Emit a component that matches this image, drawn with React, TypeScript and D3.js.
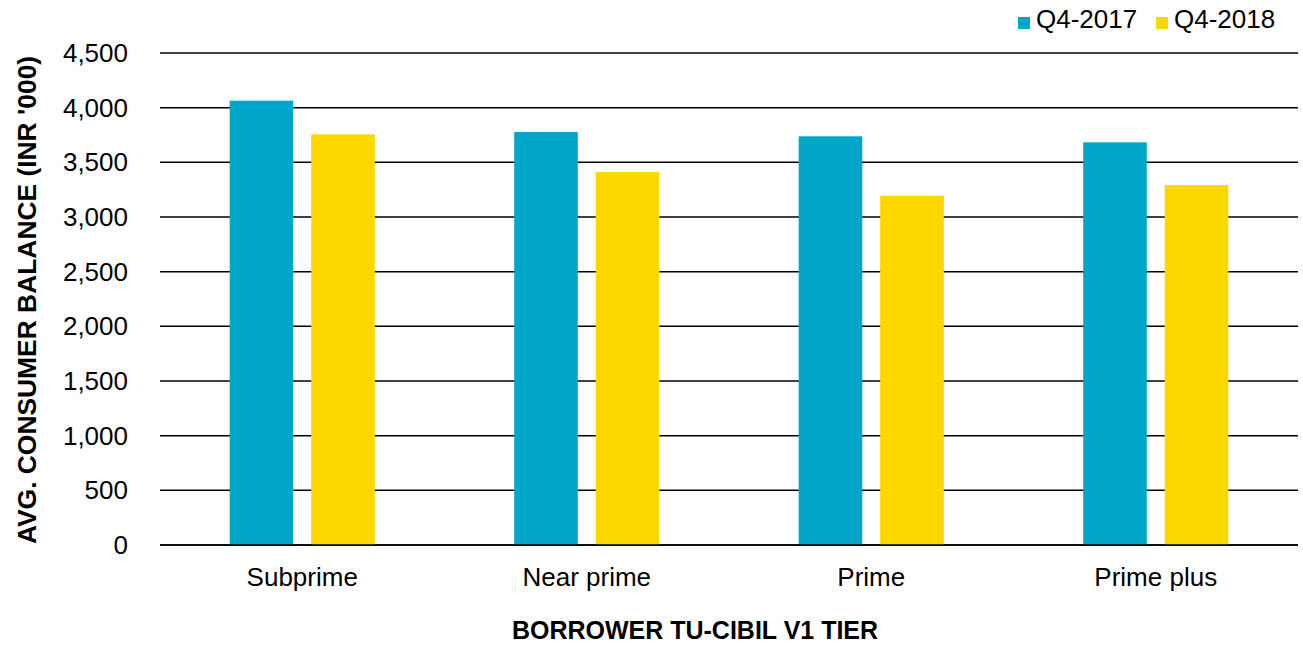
import React from "react";
import * as d3 from "d3";

const categories = ["Subprime", "Near prime", "Prime", "Prime plus"];
const seriesNames = ["Q4-2017", "Q4-2018"];
const q42017 = [4064, 3777, 3738, 3683];
const q42018 = [3756, 3411, 3195, 3292];
const yTicks = [0, 500, 1000, 1500, 2000, 2500, 3000, 3500, 4000, 4500];
const colors = ["#00A6CA", "#FCD800"];

const W = 1303;
const H = 645;
const left = 160;
const right = 1298;
const top = 53;
const bottom = 545;
const FONT = "Liberation Sans, Arial, sans-serif";
const FS = 26;

export default function App() {
  const x = d3
    .scaleBand<string>()
    .domain(categories)
    .range([left, right])
    .paddingInner(0.49)
    .paddingOuter(0.245);
  const xi = d3
    .scaleBand<string>()
    .domain(seriesNames)
    .range([0, x.bandwidth()])
    .paddingInner(0.22)
    .paddingOuter(0);
  const y = d3.scaleLinear().domain([0, 4500]).range([bottom, top]);
  const fmt = d3.format(",");
  const series = [q42017, q42018];

  return (
    <svg
      width={W}
      height={H}
      style={{ position: "absolute", left: 0, top: 0, background: "#fff" }}
      fontFamily={FONT}
    >
      {yTicks.map((t) => (
        <g key={t}>
          <line
            x1={left}
            x2={right}
            y1={y(t)}
            y2={y(t)}
            stroke="#000"
            strokeWidth={1.5}
          />
          <text
            x={128}
            y={y(t)}
            dy="0.35em"
            textAnchor="end"
            fontSize={FS}
            fill="#000"
          >
            {fmt(t)}
          </text>
        </g>
      ))}
      {categories.map((c, ci) => (
        <g key={c} transform={`translate(${x(c)},0)`}>
          {seriesNames.map((s, si) => (
            <rect
              key={s}
              x={xi(s)}
              width={xi.bandwidth()}
              y={y(series[si][ci])}
              height={y(0) - y(series[si][ci])}
              fill={colors[si]}
            />
          ))}
          <text
            x={x.bandwidth() / 2}
            y={586}
            textAnchor="middle"
            fontSize={FS}
            fill="#000"
          >
            {c}
          </text>
        </g>
      ))}
      <line x1={left} x2={right} y1={bottom} y2={bottom} stroke="#000" strokeWidth={1.5} />
      <text
        x={695}
        y={639}
        textAnchor="middle"
        fontSize={25}
        fontWeight="bold"
        fill="#000"
      >
        BORROWER TU-CIBIL V1 TIER
      </text>
      <text
        transform={`translate(36,300) rotate(-90)`}
        textAnchor="middle"
        fontSize={26.4}
        fontWeight="bold"
        fill="#000"
      >
        AVG. CONSUMER BALANCE (INR '000)
      </text>
      {seriesNames.map((s, i) => {
        const lx = [1018, 1156][i];
        return (
          <g key={s}>
            <rect x={lx} y={17} width={12} height={12} fill={colors[i]} />
            <text x={lx + 18} y={28} fontSize={FS} fill="#000">
              {s}
            </text>
          </g>
        );
      })}
    </svg>
  );
}
